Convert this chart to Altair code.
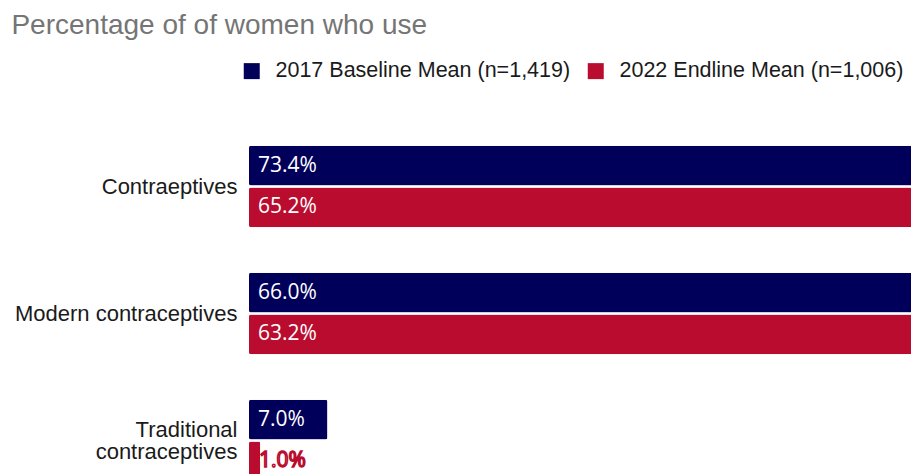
import altair as alt
import pandas as pd

categories = ["Contraeptives", "Modern contraceptives", "Traditional contraceptives"]
series = ["2017 Baseline Mean (n=1,419)", "2022 Endline Mean (n=1,006)"]
baseline_2017 = [73.4, 66.0, 7.0]
endline_2022 = [65.2, 63.2, 1.0]
colors = ["#00005A", "#BA0C2F"]

rows = []
for i, c in enumerate(categories):
    rows.append({"category": c, "series": series[0], "value": baseline_2017[i]})
    rows.append({"category": c, "series": series[1], "value": endline_2022[i]})
df = pd.DataFrame(rows)
df["label"] = df["value"].map(lambda v: f"{v:.1f}%")

PLOT_W = 662
XMAX = PLOT_W / 11.2
y_enc = alt.Y(
    "category:N",
    sort=categories,
    scale=alt.Scale(paddingInner=0.36, paddingOuter=0.18),
    axis=alt.Axis(
        title=None, ticks=False, domain=False, labelPadding=12,
        labelFontSize=22, labelFont="Liberation Sans", labelColor="#1a1a1a",
        labelLineHeight=22, labelLimit=400,
        labelOffset={"condition": {"test": "datum.value == 'Traditional contraceptives'", "value": -11}, "value": 0},
        labelExpr="datum.value == 'Traditional contraceptives' ? ['Traditional', 'contraceptives'] : datum.value",
    ),
)
yoff = alt.YOffset("series:N", sort=series, scale=alt.Scale(paddingInner=0.05))
x_enc = alt.X("value:Q", scale=alt.Scale(domain=[0, XMAX], nice=False, zero=True), axis=None)

base = alt.Chart(df).encode(y=y_enc, yOffset=yoff)

bars = base.mark_bar(cornerRadius=2).encode(
    x=x_enc,
    color=alt.Color(
        "series:N", sort=series,
        scale=alt.Scale(domain=series, range=colors),
        legend=alt.Legend(
            title=None, orient="none", legendX=-8, legendY=-63, direction="horizontal",
            symbolType="square", symbolSize=256, symbolStrokeWidth=0,
            labelFontSize=21.5, labelFont="Liberation Sans", labelColor="#1a1a1a",
            labelOffset=13, columnPadding=14, padding=0, labelLimit=400,
        ),
    ),
)

labels = base.transform_filter("datum.value >= 3").mark_text(
    align="left", baseline="middle", dx=9, font="Open Sans", fontSize=21, color="white"
).encode(x=alt.datum(0), text="label:N")

labels_small = base.transform_filter("datum.value < 3").mark_text(
    align="left", baseline="middle", dx=10, font="Open Sans", fontSize=21, fill="white",
    stroke="#BA0C2F", strokeWidth=1.5
).encode(x=alt.datum(0), text="label:N")

chart = alt.layer(bars, labels, labels_small).properties(
    width=PLOT_W,
    height=381,
    autosize=alt.AutoSizeParams(type="none"),
    padding={"left": 241, "top": 115, "right": 0, "bottom": -30},
    title=alt.TitleParams(
        "Percentage of of women who use", anchor="start", font="Liberation Sans",
        fontSize=28, fontWeight="normal", color="#757575", dx=-3, offset=20,
    ),
).configure_view(stroke=None)

chart.save("out.html", embed_options={"renderer": "svg", "actions": False})
